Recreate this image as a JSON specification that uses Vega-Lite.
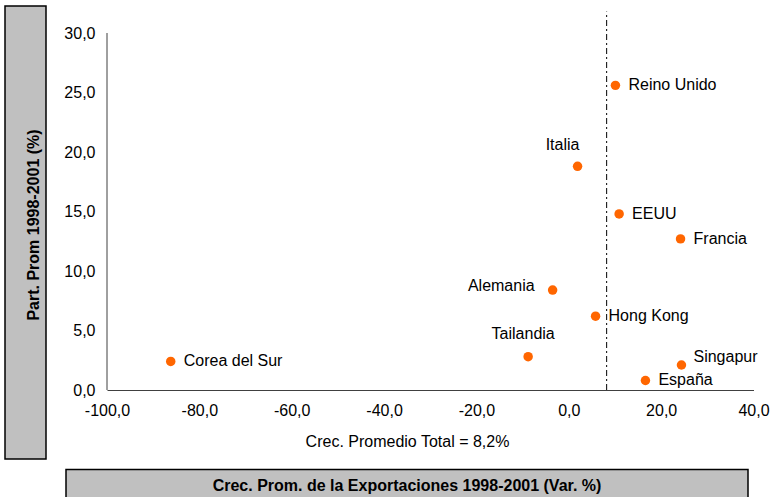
{
  "$schema": "https://vega.github.io/schema/vega-lite/v6.json",
  "background": "white",
  "padding": {"left": 4, "top": 5, "right": 0, "bottom": 0},
  "config": {
    "font": "Liberation Sans",
    "view": {"stroke": null},
    "locale": {
      "number": {"decimal": ",", "thousands": ".", "grouping": [3], "currency": ["", " €"], "minus": "-"}
    }
  },
  "datasets": {
    "paises": [
      {"pais": "Reino Unido", "crecimiento": 10.1, "participacion": 25.6},
      {"pais": "Italia", "crecimiento": 1.9, "participacion": 18.8},
      {"pais": "EEUU", "crecimiento": 10.9, "participacion": 14.8},
      {"pais": "Francia", "crecimiento": 24.2, "participacion": 12.7},
      {"pais": "Alemania", "crecimiento": -3.5, "participacion": 8.4},
      {"pais": "Hong Kong", "crecimiento": 5.8, "participacion": 6.2},
      {"pais": "Tailandia", "crecimiento": -8.8, "participacion": 2.8},
      {"pais": "Singapur", "crecimiento": 24.4, "participacion": 2.1},
      {"pais": "España", "crecimiento": 16.6, "participacion": 0.8},
      {"pais": "Corea del Sur", "crecimiento": -86.2, "participacion": 2.4}
    ],
    "promedio": [
      {"etiqueta": "Crec. Promedio Total", "crecimiento": 8.2}
    ]
  },
  "spacing": 8.5,
  "vconcat": [
    {
      "spacing": 16,
      "hconcat": [
        {
          "width": 41,
          "height": 453,
          "view": {"fill": "#C0C0C0", "stroke": "#000000", "strokeWidth": 1.5},
          "data": {"values": [{"titulo": "Part. Prom 1998-2001 (%)"}]},
          "mark": {"type": "text", "angle": 270, "fontSize": 16, "fontWeight": "bold", "color": "#000000", "align": "center", "baseline": "middle", "dx": 7.5, "dy": 8},
          "encoding": {"text": {"field": "titulo"}}
        },
        {
          "width": 646.5,
          "height": 384,
          "layer": [
            {
              "data": {"name": "promedio"},
              "mark": {"type": "rule", "color": "#404040", "strokeWidth": 1},
              "encoding": {
                "x": {"datum": -100, "type": "quantitative"},
                "y": {"datum": 0, "type": "quantitative"},
                "y2": {"datum": 30}
              }
            },
            {
              "data": {"name": "promedio"},
              "mark": {"type": "rule", "color": "#000000", "strokeWidth": 1, "strokeDash": [6, 3, 2, 3]},
              "encoding": {
                "x": {"field": "crecimiento", "type": "quantitative"},
                "y": {"datum": 0, "type": "quantitative"},
                "y2": {"datum": 31.8}
              }
            },
            {
              "data": {"name": "paises"},
              "mark": {"type": "circle", "size": 90, "color": "#FF6600", "opacity": 1},
              "encoding": {
                "x": {
                  "field": "crecimiento",
                  "type": "quantitative",
                  "scale": {"domain": [-100, 40], "nice": false, "zero": false},
                  "axis": {
                    "title": "Crec. Promedio Total = 8,2%",
                    "values": [-100, -80, -60, -40, -20, 0, 20, 40],
                    "format": ".1f",
                    "labelFontSize": 16,
                    "labelColor": "#000000",
                    "labelPadding": 12,
                    "labelFlush": false,
                    "labelOverlap": false,
                    "ticks": false,
                    "tickSize": 0,
                    "grid": false,
                    "domainColor": "#404040",
                    "domainWidth": 1,
                    "titleFontSize": 16,
                    "titleFontWeight": "normal",
                    "titleColor": "#000000",
                    "titlePadding": 15,
                    "titleX": 300
                  }
                },
                "y": {
                  "field": "participacion",
                  "type": "quantitative",
                  "scale": {"domain": [0, 32.27], "nice": false, "zero": true},
                  "axis": {
                    "title": null,
                    "values": [0, 5, 10, 15, 20, 25, 30],
                    "format": ".1f",
                    "labelFontSize": 16,
                    "labelColor": "#000000",
                    "labelPadding": 12,
                    "ticks": false,
                    "tickSize": 0,
                    "grid": false,
                    "domain": false
                  }
                }
              }
            },
            {
              "data": {"name": "paises"},
              "transform": [{"filter": {"field": "pais", "oneOf": ["Reino Unido", "EEUU", "Francia", "Hong Kong", "España", "Corea del Sur"]}}],
              "mark": {"type": "text", "fontSize": 16, "color": "#000000", "align": "left", "baseline": "middle", "dx": 13},
              "encoding": {
                "x": {"field": "crecimiento", "type": "quantitative"},
                "y": {"field": "participacion", "type": "quantitative"},
                "text": {"field": "pais"}
              }
            },
            {
              "data": {"name": "paises"},
              "transform": [{"filter": {"field": "pais", "equal": "Singapur"}}],
              "mark": {"type": "text", "fontSize": 16, "color": "#000000", "align": "left", "baseline": "middle", "dx": 12, "dy": -8},
              "encoding": {
                "x": {"field": "crecimiento", "type": "quantitative"},
                "y": {"field": "participacion", "type": "quantitative"},
                "text": {"field": "pais"}
              }
            },
            {
              "data": {"name": "paises"},
              "transform": [{"filter": {"field": "pais", "equal": "Italia"}}],
              "mark": {"type": "text", "fontSize": 16, "color": "#000000", "align": "center", "baseline": "middle", "dx": -15, "dy": -21},
              "encoding": {
                "x": {"field": "crecimiento", "type": "quantitative"},
                "y": {"field": "participacion", "type": "quantitative"},
                "text": {"field": "pais"}
              }
            },
            {
              "data": {"name": "paises"},
              "transform": [{"filter": {"field": "pais", "equal": "Tailandia"}}],
              "mark": {"type": "text", "fontSize": 16, "color": "#000000", "align": "center", "baseline": "middle", "dx": -5, "dy": -23},
              "encoding": {
                "x": {"field": "crecimiento", "type": "quantitative"},
                "y": {"field": "participacion", "type": "quantitative"},
                "text": {"field": "pais"}
              }
            },
            {
              "data": {"name": "paises"},
              "transform": [{"filter": {"field": "pais", "equal": "Alemania"}}],
              "mark": {"type": "text", "fontSize": 16, "color": "#000000", "align": "right", "baseline": "middle", "dx": -18, "dy": -4},
              "encoding": {
                "x": {"field": "crecimiento", "type": "quantitative"},
                "y": {"field": "participacion", "type": "quantitative"},
                "text": {"field": "pais"}
              }
            }
          ]
        }
      ]
    },
    {
      "spacing": 0,
      "hconcat": [
        {
          "width": 60,
          "height": 30,
          "view": {"fill": "transparent", "stroke": null},
          "data": {"values": [{}]},
          "mark": {"type": "text"},
          "encoding": {"text": {"value": ""}}
        },
        {
          "width": 682,
          "height": 30,
          "view": {"fill": "#C0C0C0", "stroke": "#000000", "strokeWidth": 1.5},
          "data": {"values": [{"titulo": "Crec. Prom. de la Exportaciones 1998-2001 (Var. %)"}]},
          "mark": {"type": "text", "fontSize": 16, "fontWeight": "bold", "color": "#000000", "align": "center", "baseline": "middle", "dy": 1},
          "encoding": {"text": {"field": "titulo"}}
        }
      ]
    }
  ]
}
